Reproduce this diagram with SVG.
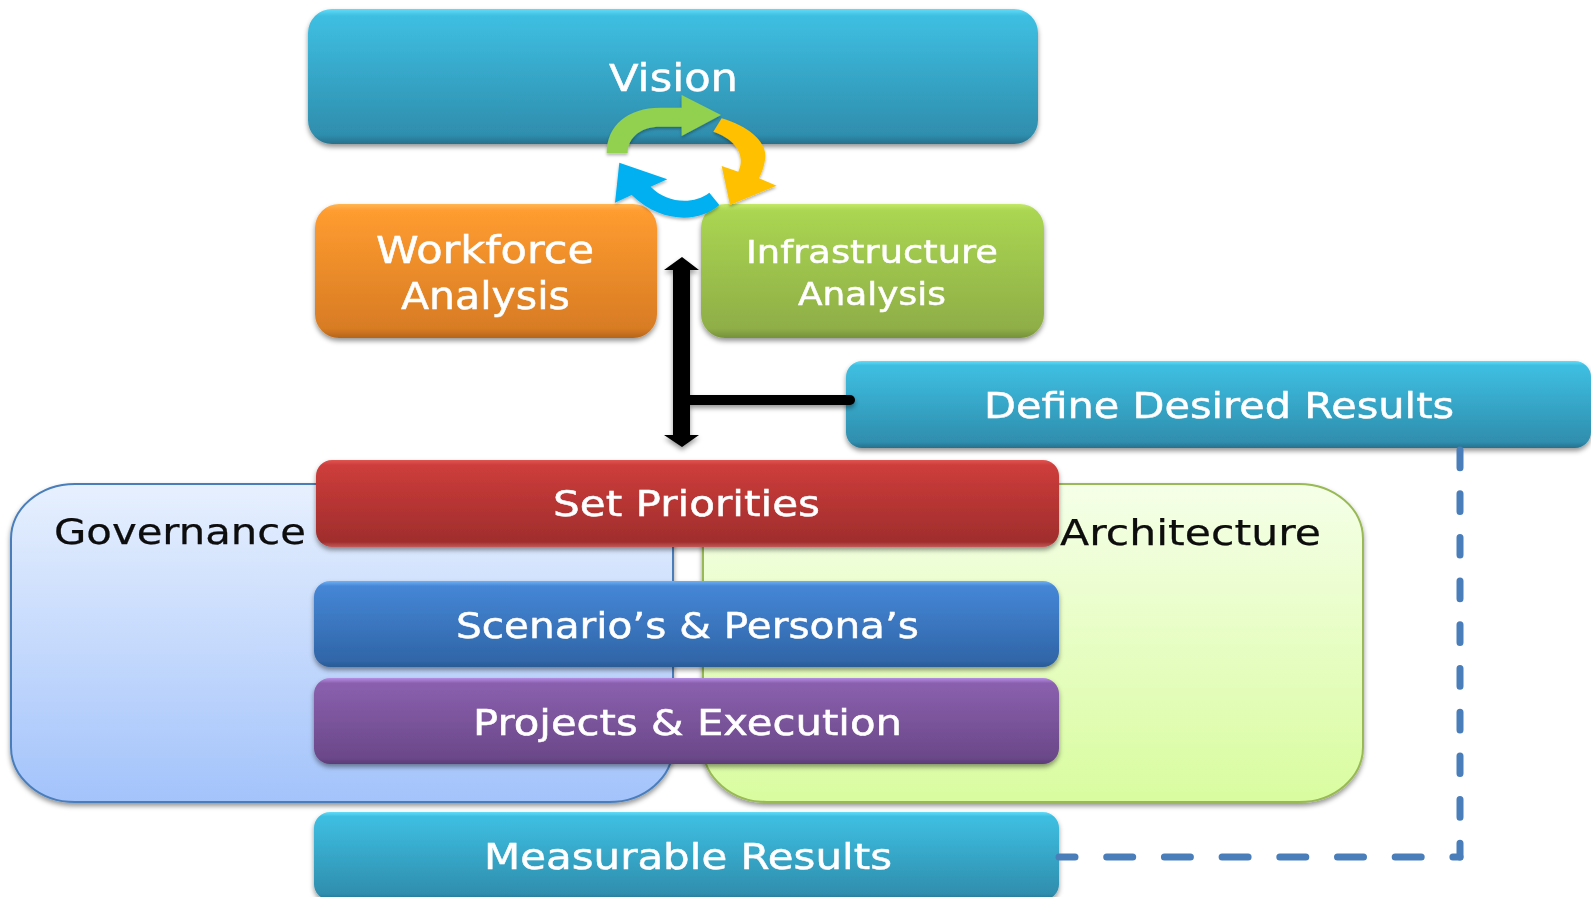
<svg xmlns="http://www.w3.org/2000/svg" width="1591" height="897" viewBox="0 0 1591 897">
<style>
text{font-family:"DejaVu Sans",sans-serif;text-anchor:start}
.w{fill:#fff;stroke:#fff;stroke-width:.5}
.k{fill:#0a0a0a;stroke:#0a0a0a;stroke-width:.25}
.box{filter:url(#sh)}
</style>
<defs>
<filter id="soft" x="0" y="0" width="100%" height="100%"><feGaussianBlur stdDeviation=".6"/></filter>
<filter id="sh" x="-5%" y="-10%" width="110%" height="125%"><feDropShadow dx="0" dy="3" stdDeviation="2.5" flood-color="#000" flood-opacity=".42"/></filter>
<filter id="sh2" x="-10%" y="-10%" width="120%" height="125%"><feDropShadow dx="0" dy="6" stdDeviation="4" flood-color="#000" flood-opacity=".3"/></filter>
<linearGradient id="teal" x1="0" y1="0" x2="0" y2="1"><stop offset="0" stop-color="#62dcf8"/><stop offset=".05" stop-color="#3ebfe2"/><stop offset=".93" stop-color="#2f8eae"/><stop offset="1" stop-color="#28708c"/></linearGradient>
<linearGradient id="orange" x1="0" y1="0" x2="0" y2="1"><stop offset="0" stop-color="#ffb650"/><stop offset=".05" stop-color="#ff9c30"/><stop offset=".93" stop-color="#d87c24"/><stop offset="1" stop-color="#b3641c"/></linearGradient>
<linearGradient id="green" x1="0" y1="0" x2="0" y2="1"><stop offset="0" stop-color="#c4e868"/><stop offset=".05" stop-color="#aad652"/><stop offset=".93" stop-color="#8fae47"/><stop offset="1" stop-color="#76913a"/></linearGradient>
<linearGradient id="red" x1="0" y1="0" x2="0" y2="1"><stop offset="0" stop-color="#e05552"/><stop offset=".06" stop-color="#cd3d3b"/><stop offset=".94" stop-color="#a02d2c"/><stop offset="1" stop-color="#c05a58"/></linearGradient>
<linearGradient id="blue" x1="0" y1="0" x2="0" y2="1"><stop offset="0" stop-color="#6fb0f2"/><stop offset=".06" stop-color="#4586d6"/><stop offset=".93" stop-color="#3066a8"/><stop offset="1" stop-color="#2a5a94"/></linearGradient>
<linearGradient id="purple" x1="0" y1="0" x2="0" y2="1"><stop offset="0" stop-color="#b68ee4"/><stop offset=".06" stop-color="#8a60ae"/><stop offset=".93" stop-color="#6b4889"/><stop offset="1" stop-color="#5b3c76"/></linearGradient>
<linearGradient id="gov" x1="0" y1="0" x2="0" y2="1"><stop offset="0" stop-color="#e7f0fe"/><stop offset="1" stop-color="#a3c3fb"/></linearGradient>
<linearGradient id="arch" x1="0" y1="0" x2="0" y2="1"><stop offset="0" stop-color="#f5ffe8"/><stop offset="1" stop-color="#d9fc9f"/></linearGradient>
</defs>
<rect width="1591" height="897" fill="#fff"/>
<g filter="url(#soft)">
<rect width="1591" height="897" fill="#fff"/>
<g id="governance">
<rect x="11" y="484" width="662" height="318" rx="64" ry="55" fill="url(#gov)" stroke="#4a7ebb" stroke-width="2" filter="url(#sh)"/>
<text class="k" x="54" y="544" font-size="35" textLength="252" lengthAdjust="spacingAndGlyphs">Governance</text>
</g>
<g id="architecture">
<rect x="703" y="484" width="660" height="318" rx="64" ry="55" fill="url(#arch)" stroke="#98b954" stroke-width="2" filter="url(#sh)"/>
<text class="k" x="1060" y="545" font-size="35" textLength="261" lengthAdjust="spacingAndGlyphs">Architecture</text>
</g>
<g id="vision">
<rect class="box" x="308" y="9" width="730" height="135" rx="24" fill="url(#teal)"/>
<text class="w" x="609" y="91" font-size="37" textLength="129" lengthAdjust="spacingAndGlyphs">Vision</text>
</g>
<g id="workforce-analysis">
<rect class="box" x="315" y="204" width="342" height="134" rx="24" fill="url(#orange)"/>
<text class="w" x="376" y="263" font-size="37" textLength="218" lengthAdjust="spacingAndGlyphs">Workforce</text>
<text class="w" x="401" y="309" font-size="37" textLength="169" lengthAdjust="spacingAndGlyphs">Analysis</text>
</g>
<g id="infrastructure-analysis">
<rect class="box" x="701" y="204" width="343" height="134" rx="24" fill="url(#green)"/>
<text class="w" x="746" y="263" font-size="32" textLength="252" lengthAdjust="spacingAndGlyphs">Infrastructure</text>
<text class="w" x="798" y="305" font-size="32" textLength="148" lengthAdjust="spacingAndGlyphs">Analysis</text>
</g>
<g id="define-desired-results">
<rect class="box" x="846" y="361" width="745" height="87" rx="16" fill="url(#teal)"/>
<text class="w" x="984" y="418" font-size="36" textLength="470" lengthAdjust="spacingAndGlyphs">Define Desired Results</text>
</g>
<g id="set-priorities">
<rect class="box" x="316" y="460" width="743" height="87" rx="16" fill="url(#red)"/>
<text class="w" x="553" y="516" font-size="36" textLength="267" lengthAdjust="spacingAndGlyphs">Set Priorities</text>
</g>
<g id="scenarios-personas">
<rect class="box" x="314" y="581" width="745" height="86" rx="16" fill="url(#blue)"/>
<text class="w" x="456" y="638" font-size="36" textLength="463" lengthAdjust="spacingAndGlyphs">Scenario’s &amp; Persona’s</text>
</g>
<g id="projects-execution">
<rect class="box" x="314" y="678" width="745" height="86" rx="16" fill="url(#purple)"/>
<text class="w" x="473" y="735" font-size="36" textLength="429" lengthAdjust="spacingAndGlyphs">Projects &amp; Execution</text>
</g>
<g id="measurable-results">
<rect class="box" x="314" y="812" width="745" height="88" rx="16" fill="url(#teal)"/>
<text class="w" x="484" y="869" font-size="36" textLength="408" lengthAdjust="spacingAndGlyphs">Measurable Results</text>
</g>

<g id="connectors">
<g filter="url(#sh)">
<path d="M682 257L699 270H690V435H699L682 447L664 435H673V270H664Z" fill="#000"/>
<path d="M682 400H850" fill="none" stroke="#000" stroke-width="10" stroke-linecap="round"/>
</g>
<path d="M1460 450V857" fill="none" stroke="#4a7ebb" stroke-width="7" stroke-linecap="round" stroke-dasharray="17.7 26"/>
<path d="M1059 857H1460" fill="none" stroke="#4a7ebb" stroke-width="7" stroke-linecap="round" stroke-dasharray="26 31.7" stroke-dashoffset="10"/>
</g>

<g id="cycle-arrows" transform="translate(560 70) scale(.3333)" filter="url(#sh2)">
<path d="M140 250C140 165 205 113 300 113H365V75L483 135L365 198V170H300C245 170 203 200 203 250Z" fill="#92d050"/>
<path d="M485 145C570 170 625 220 615 270C612 290 605 310 597 325L650 347L510 405L485 288L535 305C560 250 520 205 460 185Z" fill="#ffc000"/>
<path d="M478 405C420 458 305 462 215 375L165 398L178 278L322 328L272 350C320 400 400 405 448 368Z" fill="#00b0f0"/>
</g>
</g>
</svg>
